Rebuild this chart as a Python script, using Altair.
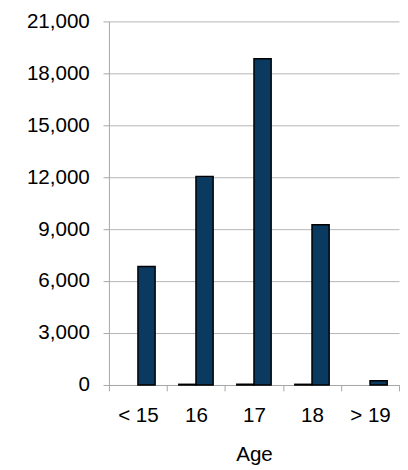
import altair as alt
import pandas as pd

ages = ["< 15", "16", "17", "18", "> 19"]
series_a = [0, 40, 40, 40, 0]          # tiny first series
series_b = [6850, 12050, 18850, 9250, 250]  # main series

rows = []
for a, v in zip(ages, series_a):
    rows.append({"Age": a, "Series": "A", "Count": v})
for a, v in zip(ages, series_b):
    rows.append({"Age": a, "Series": "B", "Count": v})
df = pd.DataFrame(rows)

FONT = "Liberation Sans"

chart = alt.Chart(df).transform_filter(alt.datum.Count > 0).mark_bar(
    color="#0a3a60", stroke="#000000", strokeWidth=1.5
).encode(
    x=alt.X("Age:N", sort=ages, title="Age",
            scale=alt.Scale(paddingInner=0, paddingOuter=0),
            axis=alt.Axis(labelAngle=0, tickBand="extent", grid=False,
                          domainColor="#a6a6a6", tickColor="#a6a6a6",
                          tickSize=6, labelPadding=14, labelFontSize=21,
                          titleFontSize=21, titleFontWeight="normal",
                          titlePadding=19, labelFont=FONT, titleFont=FONT,
                          labelColor="#000000", titleColor="#000000")),
    xOffset=alt.XOffset("Series:N", sort=["A", "B"],
                        scale=alt.Scale(paddingInner=0, paddingOuter=0.69)),
    y=alt.Y("Count:Q", title=None,
            scale=alt.Scale(domain=[0, 21000], nice=False),
            axis=alt.Axis(values=list(range(0, 21001, 3000)), format=",.0f",
                          domainColor="#a6a6a6", tickColor="#a6a6a6",
                          gridColor="#b4b4b4", tickSize=6, labelPadding=14,
                          labelFontSize=21, labelFont=FONT,
                          labelColor="#000000")),
).properties(
    width=296, height=371,
    autosize=alt.AutoSizeParams(type="none"),
    padding={"left": 103, "top": 9, "right": 1, "bottom": 80},
).configure_view(stroke=None)

chart.save("out.html", embed_options={"renderer": "svg", "actions": False})
